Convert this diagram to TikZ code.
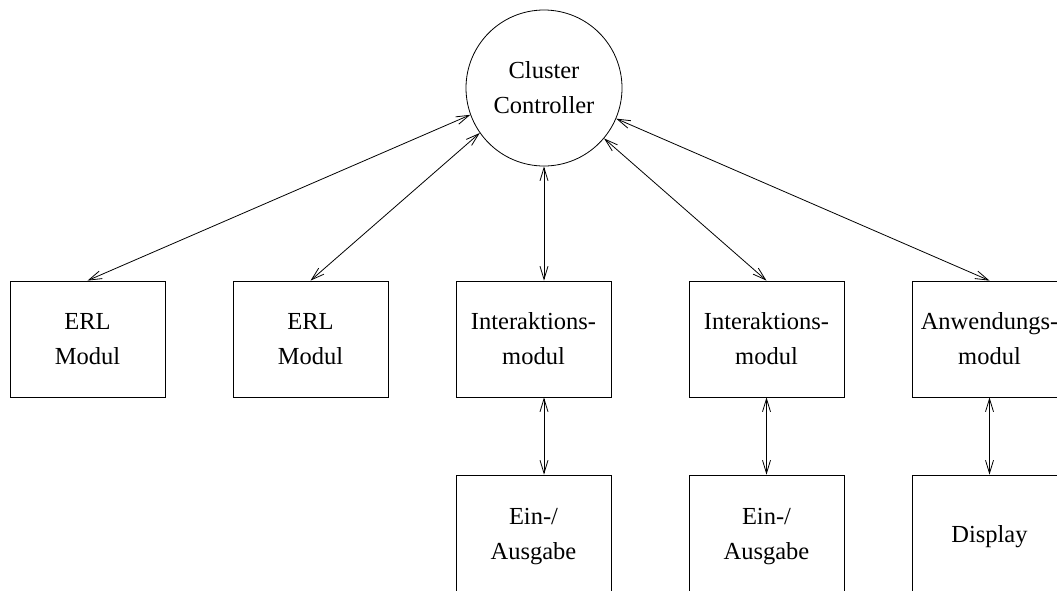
\documentclass[tikz,border=0pt]{standalone}
\usepackage{fontspec}
\setmainfont{Liberation Serif}
\usetikzlibrary{arrows.meta}
\begin{document}
\begin{tikzpicture}[x=1pt,y=-1pt,
  box/.style={draw, line width=0.8pt, minimum width=155pt, minimum height=116pt, inner sep=0pt, align=center, font=\fontsize{24.5}{35}\selectfont},
  lowbox/.style={box, minimum height=124pt},
  ctrl/.style={draw, circle, line width=0.8pt, minimum size=156pt, inner sep=0pt, align=center, font=\fontsize{24.5}{35}\selectfont},
  link/.style={line width=0.8pt, {Straight Barb[length=13pt,width=8pt]}-{Straight Barb[length=13pt,width=8pt]}}]
\clip (0,0) rectangle (1057,590);
\node[ctrl] (cc) at (544,88) {Cluster\\Controller};
\node[box] (b1) at (87.5,339) {ERL\\Modul};
\node[box] (b2) at (310.5,339) {ERL\\Modul};
\node[box] (b3) at (533.5,339) {Interaktions-\\modul};
\node[box] (b4) at (766.5,339) {Interaktions-\\modul};
\node[box] (b5) at (989.5,339) {Anwendungs-\\modul};
\node[lowbox] (e3) at (533.5,537) {Ein-/\\Ausgabe};
\node[lowbox] (e4) at (766.5,537) {Ein-/\\Ausgabe};
\node[lowbox] (e5) at (989.5,537) {Display};
\draw[link] (b1.north) -- (cc.200);
\draw[link] (b2.north) -- (cc.215);
\draw[link] (b3.north -| cc.south) -- (cc.south);
\draw[link] (b4.north) -- (cc.-40);
\draw[link] (b5.north) -- (cc.-23);
\draw[link] (b3.south -| cc.south) -- (e3.north -| cc.south);
\draw[link] (b4.south) -- (e4.north);
\draw[link] (b5.south) -- (e5.north);
\end{tikzpicture}
\end{document}
